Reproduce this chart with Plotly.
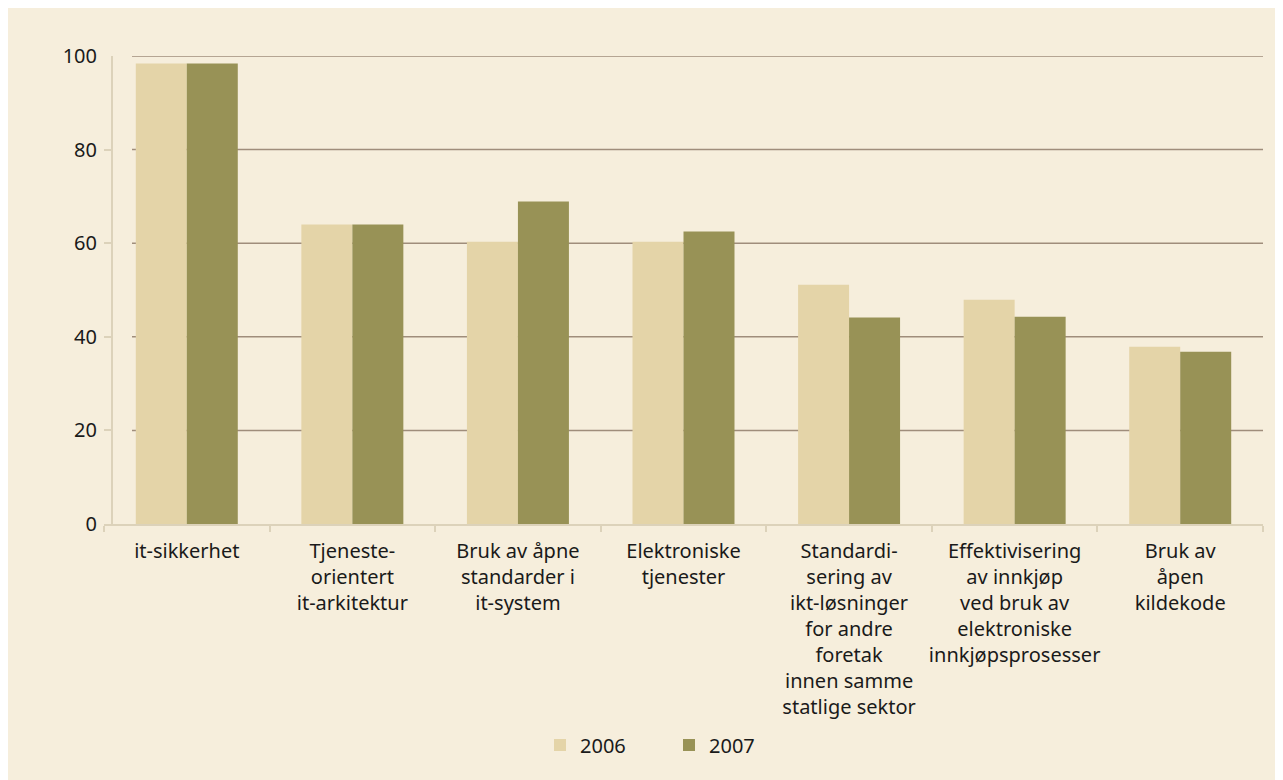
import plotly.graph_objects as go

categories = [
    "it-sikkerhet",
    "Tjeneste-<br>orientert<br>it-arkitektur",
    "Bruk av åpne<br>standarder i<br>it-system",
    "Elektroniske<br>tjenester",
    "Standardi-<br>sering av<br>ikt-løsninger<br>for andre<br>foretak<br>innen samme<br>statlige sektor",
    "Effektivisering<br>av innkjøp<br>ved bruk av<br>elektroniske<br>innkjøpsprosesser",
    "Bruk av<br>åpen<br>kildekode",
]
values_2006 = [98.4, 64.0, 60.3, 60.3, 51.1, 47.9, 37.9]
values_2007 = [98.4, 64.0, 68.9, 62.5, 44.1, 44.3, 36.8]
series_names = ["2006", "2007"]
y_ticks = [0, 20, 40, 60, 80, 100]

C06 = "#E4D4A8"
C07 = "#989256"
BG = "#F6EEDC"
AXIS = "#DCD2BA"
GRID = "#9F8D7B"
FONT = "Noto Sans"
TXT = "#1a1a1a"

# figure sits at page offset (8, 8) because of the default body margin
W, H = 1275, 772
L, R, T, B = 96, 20, 48, 256
pw = W - L - R
ph = H - T - B


def fx(p):
    return (p - L) / pw


def fy(p):
    return (H - B - p) / ph


fig = go.Figure()
fig.add_trace(go.Bar(x=categories, y=values_2006, name=series_names[0],
                     marker=dict(color=C06, line=dict(width=0))))
fig.add_trace(go.Bar(x=categories, y=values_2007, name=series_names[1],
                     marker=dict(color=C07, line=dict(width=0))))

shapes = [
    # y axis line, slightly inside the plot area
    dict(type="line", xref="paper", yref="y",
         x0=fx(104), x1=fx(104), y0=0, y1=100,
         line=dict(color=AXIS, width=2)),
]
for t in y_ticks[1:]:
    shapes.append(dict(type="line", xref="paper", yref="y", layer="below",
                       x0=fx(124), x1=fx(1255), y0=t, y1=t,
                       line=dict(color=GRID, width=1.5)))

fig.update_layout(
    width=W, height=H,
    margin=dict(l=L, r=R, t=T, b=B, pad=0),
    paper_bgcolor=BG,
    plot_bgcolor="rgba(0,0,0,0)",
    barmode="group",
    bargap=0.384,
    bargroupgap=0,
    shapes=shapes,
    font=dict(family=FONT, size=20, color=TXT),
    legend=dict(orientation="h", x=fx(532), xanchor="left",
                y=fy(737), yanchor="middle",
                bgcolor="rgba(0,0,0,0)", font=dict(size=20, color=TXT),
                entrywidth=84, entrywidthmode="pixels",
                itemwidth=30),
    showlegend=True,
)
fig.update_xaxes(
    showgrid=False, showline=True, linecolor=AXIS, linewidth=2,
    ticks="outside", tickson="boundaries", ticklen=6, tickwidth=2,
    tickcolor=AXIS, tickfont=dict(size=20, color=TXT), tickangle=0,
    ticklabelstandoff=8,
    range=[-0.5, 6.5], fixedrange=True,
)
fig.update_yaxes(
    range=[0, 100], tickvals=y_ticks, showgrid=False, zeroline=False,
    showline=False,
    ticks="inside", ticklen=8, tickwidth=2, tickcolor=AXIS,
    tickfont=dict(size=20, color=TXT), ticklabelstandoff=6,
)

fig.write_html("out.html")
